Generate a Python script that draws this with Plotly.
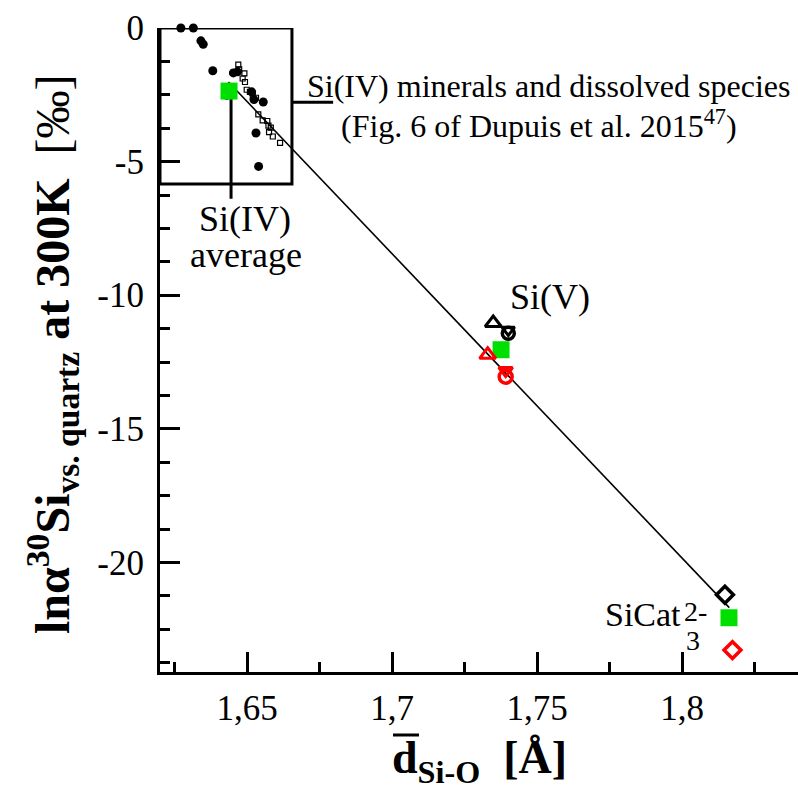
import plotly.graph_objects as go

# ---- data ----
# Si(IV) minerals and dissolved species (Dupuis et al. 2015), filled circles
dup_circ_x = [1.6272, 1.6315, 1.6341, 1.6349, 1.6382, 1.6453, 1.6467, 1.6516, 1.6524, 1.6556, 1.6531, 1.6540, 1.6430]
dup_circ_y = [0.0, 0.0, -0.48, -0.61, -1.60, -1.68, -1.64, -2.39, -2.68, -2.77, -3.93, -5.18, -2.52]
# open small squares
dup_sq_x = [1.6470, 1.6473, 1.6491, 1.6485, 1.6493, 1.6499, 1.6510, 1.6520, 1.6531, 1.6539,
            1.6554, 1.6570, 1.6574, 1.6582, 1.6576, 1.6589, 1.6614]
dup_sq_y = [-1.37, -1.55, -1.70, -1.89, -2.02, -2.31, -2.39, -2.52, -2.61, -3.23,
            -3.46, -3.48, -3.65, -3.73, -3.90, -4.06, -4.30]

# averages (green squares): Si(IV), Si(V), SiCat3
avg_x = [1.6438, 1.7376, 1.8162]
avg_y = [-2.36, -12.04, -22.07]

# black open symbols
blk_triup_x = [1.7349]; blk_triup_y = [-11.04]
blk_tridn_x = [1.7401]; blk_tridn_y = [-11.30]
blk_circ_x = [1.7401]; blk_circ_y = [-11.42]
blk_diam_x = [1.8148]; blk_diam_y = [-21.21]
# red open symbols
red_triup_x = [1.7330]; red_triup_y = [-12.23]
red_tridn_x = [1.7392]; red_tridn_y = [-12.82]
red_circ_x = [1.7392]; red_circ_y = [-13.05]
red_diam_x = [1.8174]; red_diam_y = [-23.28]

# correlation line
fit_x = [1.6436, 1.8163]
fit_y = [-2.02, -21.69]

x_ticks = [1.65, 1.7, 1.75, 1.8]
x_ticktext = ["1,65", "1,7", "1,75", "1,8"]
x_minor = [1.625, 1.675, 1.725, 1.775, 1.825]
y_ticks = [0, -5, -10, -15, -20]
y_ticktext = ["0", "-5", "-10", "-15", "-20"]
y_minor = [-1.25, -2.5, -3.75, -6.25, -7.5, -8.75, -11.25, -12.5, -13.75,
           -16.25, -17.5, -18.75, -21.25, -22.5, -23.75]

FONT = "Liberation Serif"
GREEN = "#00e000"
RED = "#ff0000"

fig = go.Figure()
fig.add_trace(go.Scatter(x=fit_x, y=fit_y, mode="lines",
                         line=dict(color="black", width=1.6), cliponaxis=False))
fig.add_trace(go.Scatter(x=dup_sq_x, y=dup_sq_y, mode="markers", cliponaxis=False,
                         marker=dict(symbol="square-open", size=5, color="black", line=dict(width=1.2))))
fig.add_trace(go.Scatter(x=dup_circ_x, y=dup_circ_y, mode="markers", cliponaxis=False,
                         marker=dict(symbol="circle", size=9, color="black", line=dict(width=0))))


def open_trace(x, y, sym, color, size, lw):
    return go.Scatter(x=x, y=y, mode="markers", cliponaxis=False,
                      marker=dict(symbol=sym, size=size, color=color,
                                  line=dict(color=color, width=lw)))


fig.add_trace(open_trace(blk_triup_x, blk_triup_y, "triangle-up-open", "black", 14, 3))
fig.add_trace(open_trace(blk_tridn_x, blk_tridn_y, "triangle-down-open", "black", 11, 3))
fig.add_trace(open_trace(blk_circ_x, blk_circ_y, "circle-open", "black", 12, 3.5))
fig.add_trace(open_trace(blk_diam_x, blk_diam_y, "diamond-open", "black", 13, 3.5))
fig.add_trace(go.Scatter(x=avg_x, y=avg_y, mode="markers", cliponaxis=False,
                         marker=dict(symbol="square", size=17, color=GREEN, line=dict(width=0))))
fig.add_trace(open_trace(red_triup_x, red_triup_y, "triangle-up-open", RED, 14, 3))
fig.add_trace(open_trace(red_tridn_x, red_tridn_y, "triangle-down-open", RED, 12, 3))
fig.add_trace(open_trace(red_circ_x, red_circ_y, "circle-open", RED, 13, 3.5))
fig.add_trace(open_trace(red_diam_x, red_diam_y, "diamond-open", RED, 13, 3.5))

shapes = [
    dict(type="rect", xref="x", yref="y", x0=1.62, x1=1.6655, y0=-5.84, y1=0,
         line=dict(color="black", width=3), layer="below"),
    dict(type="line", xref="x", yref="y", x0=1.6655, x1=1.6797, y0=-2.78, y1=-2.78,
         line=dict(color="black", width=3), layer="below"),
    dict(type="line", xref="x", yref="y", x0=1.6445, x1=1.6445, y0=-2.36, y1=-6.39,
         line=dict(color="black", width=3), layer="below"),
    # overline of d (x-axis title)
    dict(type="line", xref="paper", yref="paper", x0=(393 - 160) / 638, x1=(419 - 160) / 638,
         y0=(672 - 735) / 644, y1=(672 - 735) / 644, line=dict(color="black", width=3)),
]

ann = []


def txt(text, x, y, size, xanchor="center", yanchor="middle", **kw):
    d = dict(text=text, x=x, y=y, xref="x", yref="y", showarrow=False,
             font=dict(family=FONT, size=size, color="black"),
             xanchor=xanchor, yanchor=yanchor)
    d.update(kw)
    ann.append(d)


txt("Si(IV) minerals and dissolved species", 1.6700, -2.18, 32, xanchor="left")
txt("(Fig. 6 of Dupuis et al. 2015<sup>47</sup>)", 1.6818, -3.61, 32, xanchor="left")
txt("Si(IV)", 1.6493, -7.15, 36)
txt("average", 1.6497, -8.50, 36)
txt("Si(V)", 1.7545, -10.08, 36)
txt("SiCat", 1.8003, -21.95, 34, xanchor="right")
txt("2-", 1.7999, -21.85, 28, xanchor="left")
txt("3", 1.8006, -22.93, 28, xanchor="left")

# axis titles
ann.append(dict(text="<b>lnα<sup>30</sup>Si<sub>vs. quartz</sub> at 300K</b>  [‰]",
                xref="paper", yref="paper", x=0, y=0.5, xshift=-108, yshift=-4,
                xanchor="center", yanchor="middle", textangle=-90, showarrow=False,
                font=dict(family=FONT, size=48, color="black")))
ann.append(dict(text="<b>d<sub>Si-O</sub>  [Å]</b>",
                xref="paper", yref="paper", x=0.5, y=0, yshift=-89,
                xanchor="center", yanchor="middle", showarrow=False,
                font=dict(family=FONT, size=46, color="black")))

axis_common = dict(showline=True, linecolor="black", linewidth=3, mirror=False,
                   ticks="inside", ticklen=20, tickwidth=2.5, tickcolor="black",
                   showgrid=False, zeroline=False,
                   tickfont=dict(family=FONT, size=35, color="black"))

fig.update_layout(
    width=798, height=789,
    margin=dict(l=160, r=0, t=28, b=117),
    paper_bgcolor="white", plot_bgcolor="white",
    showlegend=False,
    shapes=shapes, annotations=ann,
    xaxis=dict(range=[1.62, 1.84], tickmode="array", tickvals=x_ticks, ticktext=x_ticktext,
               minor=dict(tickmode="array", tickvals=x_minor, ticks="inside", ticklen=10,
                          tickwidth=2.5, tickcolor="black", showgrid=False),
               ticklabelstandoff=3, **axis_common),
    yaxis=dict(range=[-24.1, 0], tickmode="array", tickvals=y_ticks, ticktext=y_ticktext,
               minor=dict(tickmode="array", tickvals=y_minor, ticks="inside", ticklen=10,
                          tickwidth=2.5, tickcolor="black", showgrid=False),
               ticklabelstandoff=6, **axis_common),
)

fig.write_html("out.html")
